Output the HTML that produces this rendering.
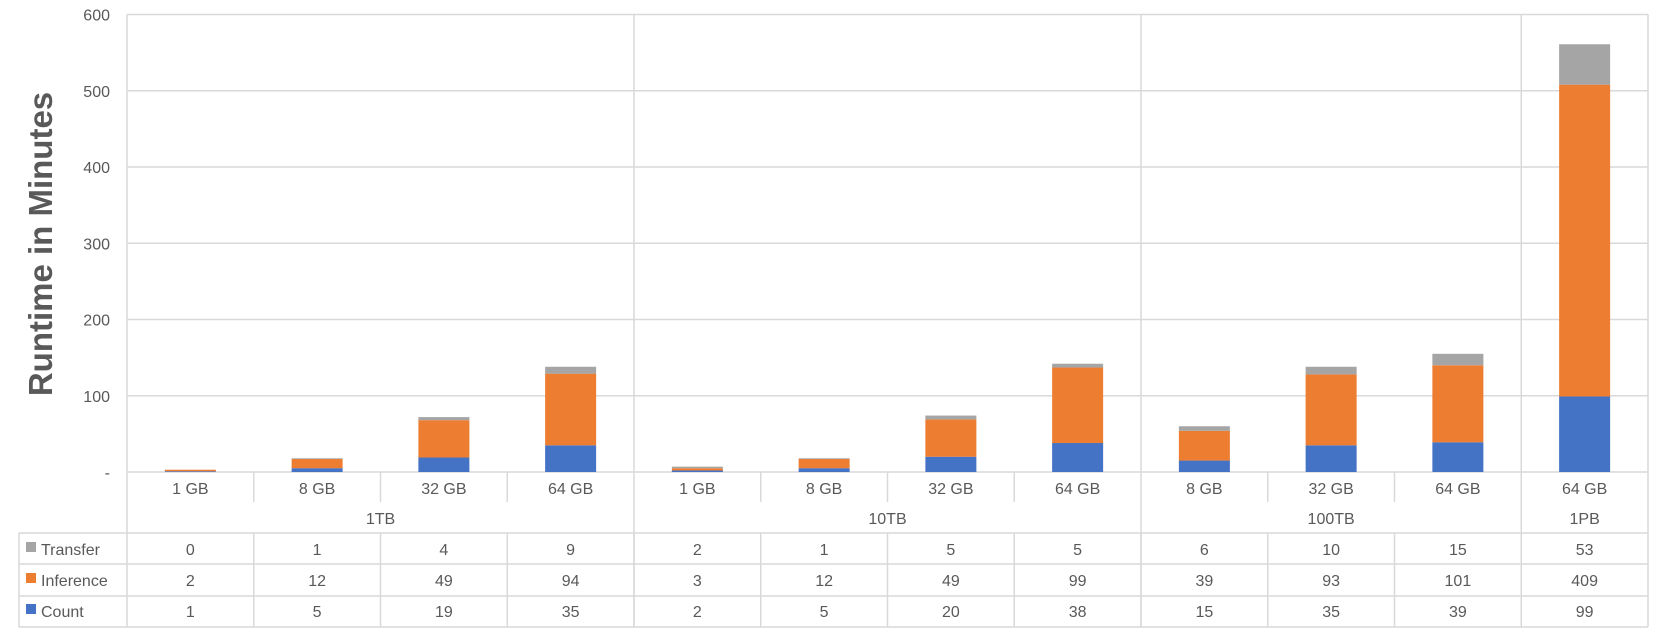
<!DOCTYPE html>
<html><head><meta charset="utf-8"><style>
html,body{margin:0;padding:0;background:#fff;}
svg{display:block;font-family:"Liberation Sans",sans-serif;}
</style></head><body>
<svg id="s" width="1662" height="638" viewBox="0 0 1662 638" xmlns="http://www.w3.org/2000/svg"></svg>
<script>
const s=document.getElementById('s');
let h='';
const L=127,R=1648,T=14.5,B=472,cw=(R-L)/12,k=(B-T)/600;
const G='#d9d9d9',C='#595959';
for(let v=0;v<=600;v+=100){const y=B-v*k;h+=`<line x1="${L}" x2="${R}" y1="${y}" y2="${y}" stroke="${G}" stroke-width="1.5"/>`;
 h+=`<text x="110" y="${y+6}" text-anchor="end" font-size="16" fill="${C}">${v==0?'-':v}</text>`;}
const cats=['1 GB','8 GB','32 GB','64 GB','1 GB','8 GB','32 GB','64 GB','8 GB','32 GB','64 GB','64 GB'];
const tr=[0,1,4,9,2,1,5,5,6,10,15,53],inf=[2,12,49,94,3,12,49,99,39,93,101,409],cnt=[1,5,19,35,2,5,20,38,15,35,39,99];
const bounds=[0,4,8,11,12];
bounds.forEach(b=>{const x=L+b*cw;h+=`<line x1="${x}" x2="${x}" y1="${T}" y2="627" stroke="${G}" stroke-width="1.5"/>`;});
for(let i=1;i<12;i++){const x=L+i*cw;if(!bounds.includes(i))h+=`<line x1="${x}" x2="${x}" y1="${B}" y2="502" stroke="${G}" stroke-width="1.5"/>`;
 h+=`<line x1="${x}" x2="${x}" y1="533" y2="627" stroke="${G}" stroke-width="1.5"/>`;}
[533,564,596,627].forEach(y=>h+=`<line x1="19" x2="${R}" y1="${y}" y2="${y}" stroke="${G}" stroke-width="1.5"/>`);
h+=`<line x1="19" x2="19" y1="533" y2="627" stroke="${G}" stroke-width="1.5"/>`;
for(let i=0;i<12;i++){const cx=L+(i+0.5)*cw,bw=51,x=cx-bw/2;let y=B;
 [[cnt[i],'#4472c4'],[inf[i],'#ed7d31'],[tr[i],'#a5a5a5']].forEach(([v,c])=>{const hh=v*k;if(hh>0){h+=`<rect x="${x}" y="${y-hh}" width="${bw}" height="${hh}" fill="${c}"/>`;}y-=hh;});
 h+=`<text x="${cx}" y="494" text-anchor="middle" font-size="16" fill="${C}">${cats[i]}</text>`;
 [[tr,555],[inf,586],[cnt,617]].forEach(([a,yy])=>h+=`<text x="${cx}" y="${yy}" text-anchor="middle" font-size="16" fill="${C}">${a[i]}</text>`);
}
const gl=['1TB','10TB','100TB','1PB'];
for(let g=0;g<4;g++){const cx=L+(bounds[g]+bounds[g+1])/2*cw;h+=`<text x="${cx}" y="524" text-anchor="middle" font-size="16" fill="${C}">${gl[g]}</text>`;}
[['Transfer','#a5a5a5',555],['Inference','#ed7d31',586],['Count','#4472c4',617]].forEach(([n,c,y])=>{
 h+=`<rect x="26" y="${y-13}" width="10" height="10" fill="${c}"/><text x="41" y="${y}" font-size="16" fill="${C}">${n}</text>`;});
h+=`<text transform="translate(52,244) rotate(-90)" text-anchor="middle" font-size="33" font-weight="bold" fill="${C}">Runtime in Minutes</text>`;
s.innerHTML=h;
</script>
</body></html>
